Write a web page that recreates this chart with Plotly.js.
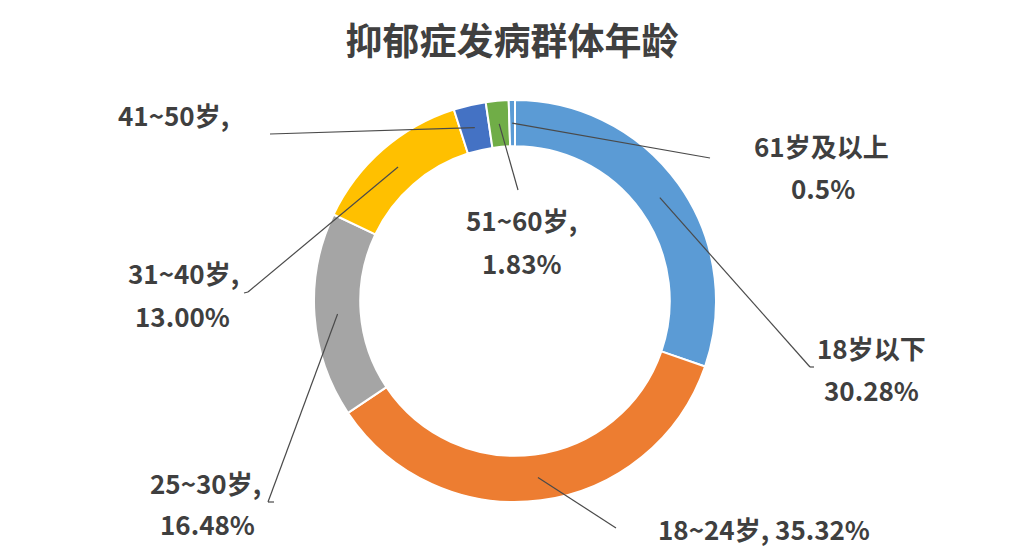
<!DOCTYPE html>
<html><head><meta charset="utf-8">
<script src="https://cdn.plot.ly/plotly-3.0.1.min.js"></script>
<style>html,body{margin:0;padding:0;background:#fff}</style>
</head><body><div id="chart" style="width:1026px;height:549px"></div>
<script>
// ---- data ----
const categories = ["18岁以下", "18~24岁", "25~30岁", "31~40岁", "41~50岁", "51~60岁", "61岁及以上"];
const shares = [30.28, 35.32, 16.48, 13.00, 2.59, 1.83, 0.50];
const labelLines = [
  ["18岁以下", "30.28%"],
  ["18~24岁, 35.32%"],
  ["25~30岁,", "16.48%"],
  ["31~40岁,", "13.00%"],
  ["41~50岁,"],
  ["51~60岁,", "1.83%"],
  ["61岁及以上", "0.5%"]
];
const sliceColors = ["#5B9BD5", "#ED7D31", "#A5A5A5", "#FFC000", "#4472C4", "#70AD47", "#5B9BD5"];

// ---- layout (pixels) ----
const W = 1026, H = 549;
const CX = 515, CY = 301, R = 201, HOLE = 0.77;
const RMID = R * (1 + HOLE) / 2;
// label line centres [x, y] per line
const labelPos = [
  [[871, 347], [871, 389]],
  [[764, 528]],
  [[205, 482], [207, 523]],
  [[183, 272], [182, 315]],
  [[173, 115]],
  [[521, 219], [522, 262]],
  [[821, 145], [823, 187]]
];
// leader end points (pixels) and optional small hook
const leaderEnd = [[810, 367], [616, 528], [268, 502], [248, 292], [270, 134], [518, 190], [710, 158]];
const hookEnd = [[814, 367], null, [274, 502], [244, 293], null, null, null];

const px = x => x / W, py = y => 1 - y / H;
const textFont = {family: "'Noto Sans CJK SC', 'Noto Sans', sans-serif", size: 26, color: "#3f3f3f", weight: 700};

const total = shares.reduce((a, b) => a + b, 0);
let cum = 0;
const shapes = [], annotations = [];
shares.forEach((v, i) => {
  const mid = (cum + v / 2) / total * 2 * Math.PI;
  cum += v;
  const sx = CX + RMID * Math.sin(mid), sy = CY - RMID * Math.cos(mid);
  const e = leaderEnd[i];
  shapes.push({type: "line", xref: "paper", yref: "paper", x0: px(sx), y0: py(sy), x1: px(e[0]), y1: py(e[1]),
    line: {color: "#4a4a4a", width: 1.2}});
  if (hookEnd[i]) {
    shapes.push({type: "line", xref: "paper", yref: "paper", x0: px(e[0]), y0: py(e[1]), x1: px(hookEnd[i][0]), y1: py(hookEnd[i][1]),
      line: {color: "#4a4a4a", width: 1.2}});
  }
  labelLines[i].forEach((t, j) => {
    const p = labelPos[i][j];
    annotations.push({text: t, xref: "paper", yref: "paper", x: px(p[0]), y: py(p[1]),
      xanchor: "center", yanchor: "middle", showarrow: false, font: textFont});
  });
});

const trace = {
  type: "pie",
  labels: categories,
  values: shares,
  sort: false,
  direction: "clockwise",
  rotation: 0,
  hole: HOLE,
  textinfo: "none",
  hoverinfo: "label+percent",
  marker: {colors: sliceColors, line: {color: "#ffffff", width: 2}},
  domain: {x: [px(CX - R), px(CX + R)], y: [py(CY + R), py(CY - R)]},
  showlegend: false
};

const layout = {
  width: W, height: H,
  margin: {l: 0, r: 0, t: 0, b: 0},
  paper_bgcolor: "#ffffff",
  plot_bgcolor: "#ffffff",
  title: {text: "抑郁症发病群体年龄", x: 0.499, y: 1 - 42 / H, xanchor: "center", yanchor: "middle",
    font: {family: "'Noto Sans CJK SC', sans-serif", size: 37, color: "#404040", weight: 700}},
  shapes: shapes,
  annotations: annotations,
  showlegend: false
};

Plotly.newPlot("chart", [trace], layout, {displayModeBar: false, staticPlot: true});
</script>
</body></html>
